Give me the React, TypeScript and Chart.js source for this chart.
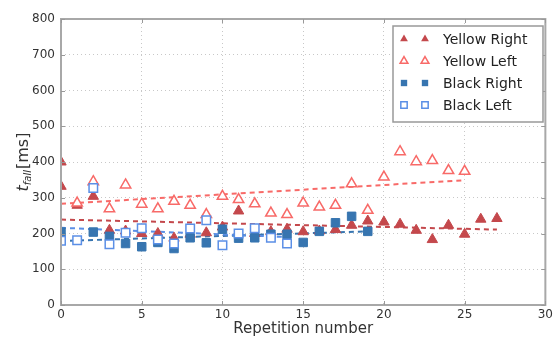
import React, { useEffect, useRef } from "react";
import { Chart, registerables } from "chart.js";

Chart.register(...registerables);

const xTicks = [0, 5, 10, 15, 20, 25, 30];
const yTicks = [0, 100, 200, 300, 400, 500, 600, 700, 800];

const yellowRightX = [0, 0, 1, 2, 3, 4, 5, 6, 7, 8, 9, 10, 11, 12, 13, 14, 15, 16, 17, 18, 19, 20, 21, 22, 23, 24, 25, 26, 27];
const yellowRightY = [400, 332, 279, 304, 209, 207, 200, 200, 187, 198, 202, 218, 263, 200, 205, 212, 205, 207, 211, 223, 235, 232, 226, 209, 183, 223, 198, 240, 242];

const yellowLeftX = [1, 2, 3, 4, 5, 6, 7, 8, 9, 10, 11, 12, 13, 14, 15, 16, 17, 18, 19, 20, 21, 22, 23, 24, 25];
const yellowLeftY = [285, 345, 269, 336, 282, 269, 290, 279, 253, 304, 295, 283, 257, 253, 285, 274, 279, 339, 265, 358, 429, 401, 404, 376, 374];

const blackRightX = [0, 2, 3, 4, 5, 6, 7, 8, 9, 10, 11, 12, 13, 14, 15, 16, 17, 18, 19];
const blackRightY = [204, 204, 192, 172, 163, 175, 158, 188, 174, 212, 187, 188, 198, 198, 175, 206, 230, 248, 206];

const blackLeftX = [0, 1, 2, 3, 4, 5, 6, 7, 8, 9, 10, 11, 12, 13, 14];
const blackLeftY = [180, 181, 327, 170, 202, 215, 183, 172, 214, 237, 167, 200, 215, 188, 172];

// trend line endpoints
const yellowRightFitX = [0, 27];
const yellowRightFitY = [239, 211];
const yellowLeftFitX = [0, 25];
const yellowLeftFitY = [283, 349];
const blackRightFitX = [0, 19];
const blackRightFitY = [179, 206];
const blackLeftFitX = [0, 14];
const blackLeftFitY = [216, 190];

const legendLabels = ["Yellow Right", "Yellow Left", "Black Right", "Black Left"];

const C_YR = "#c4484c";
const C_YL = "#f86a68";
const C_BR = "#3775b0";
const C_BL = "#5b8fe6";

const zip = (xs: number[], ys: number[]) => xs.map((x, i) => ({ x, y: ys[i] }));

const FONT = "'DejaVu Sans', sans-serif";

function drawMarker(ctx: CanvasRenderingContext2D, kind: string, x: number, y: number, r: number, color: string, filled: boolean) {
  ctx.save();
  ctx.beginPath();
  if (kind === "tri") {
    const h = r * 1.5;
    const w = r * Math.sqrt(3);
    ctx.moveTo(x, y - r);
    ctx.lineTo(x + w / 2, y - r + h);
    ctx.lineTo(x - w / 2, y - r + h);
    ctx.closePath();
  } else {
    const s = r * Math.SQRT1_2;
    ctx.rect(x - s, y - s, 2 * s, 2 * s);
  }
  if (filled) {
    ctx.fillStyle = color;
    ctx.fill();
  } else {
    ctx.fillStyle = "#fff";
    ctx.fill();
    ctx.lineWidth = 1.5;
    ctx.strokeStyle = color;
    ctx.stroke();
  }
  ctx.restore();
}

const decorPlugin = {
  id: "decor",
  afterDraw(chart: any) {
    const ctx: CanvasRenderingContext2D = chart.ctx;
    const a = chart.chartArea;
    const xs = chart.scales.x;
    const ys = chart.scales.y;
    ctx.save();
    // frame
    ctx.strokeStyle = "#a8a8a8";
    ctx.lineWidth = 2;
    ctx.strokeRect(a.left, a.top, a.right - a.left, a.bottom - a.top);
    // inward ticks
    ctx.lineWidth = 1;
    ctx.strokeStyle = "#999";
    ctx.beginPath();
    xTicks.forEach((t) => {
      const px = Math.round(xs.getPixelForValue(t)) + 0.5;
      ctx.moveTo(px, a.bottom);
      ctx.lineTo(px, a.bottom - 4);
      ctx.moveTo(px, a.top);
      ctx.lineTo(px, a.top + 4);
    });
    yTicks.forEach((t) => {
      const py = Math.round(ys.getPixelForValue(t)) + 0.5;
      ctx.moveTo(a.left, py);
      ctx.lineTo(a.left + 4, py);
      ctx.moveTo(a.right, py);
      ctx.lineTo(a.right - 4, py);
    });
    ctx.stroke();

    // x title
    ctx.fillStyle = "#333";
    ctx.font = `15px ${FONT}`;
    ctx.textAlign = "center";
    ctx.textBaseline = "middle";
    ctx.fillText("Repetition number", (a.left + a.right) / 2, 329);

    // y title with subscript
    ctx.save();
    ctx.translate(22, (a.top + a.bottom) / 2);
    ctx.rotate(-Math.PI / 2);
    ctx.textBaseline = "alphabetic";
    ctx.textAlign = "left";
    const f1 = `italic 16px ${FONT}`;
    const f2 = `italic 10px ${FONT}`;
    const f3 = `16px ${FONT}`;
    ctx.font = f1;
    const w1 = ctx.measureText("t").width;
    ctx.font = f2;
    const w2 = ctx.measureText("fall").width;
    ctx.font = f3;
    const w3 = ctx.measureText("[ms]").width;
    const total = w1 + w2 + 1 + w3;
    let cx = -total / 2;
    const base = 6;
    ctx.font = f1;
    ctx.fillText("t", cx, base);
    cx += w1;
    ctx.font = f2;
    ctx.fillText("fall", cx, base + 3);
    cx += w2 + 1;
    ctx.font = f3;
    ctx.fillText("[ms]", cx, base);
    ctx.restore();

    // legend
    const lx = 393, ly = 26, lw = 150, lh = 96;
    ctx.fillStyle = "#fff";
    ctx.fillRect(lx, ly, lw, lh);
    ctx.strokeStyle = "#999";
    ctx.lineWidth = 1.5;
    ctx.strokeRect(lx, ly, lw, lh);
    const rows = [39, 61, 83, 105];
    const kinds = [
      { k: "tri", c: C_YR, f: true },
      { k: "tri", c: C_YL, f: false },
      { k: "sq", c: C_BR, f: true },
      { k: "sq", c: C_BL, f: false },
    ];
    ctx.font = `14px ${FONT}`;
    ctx.textAlign = "left";
    ctx.textBaseline = "middle";
    rows.forEach((ry, i) => {
      const m = kinds[i];
      const r = m.k === "tri" ? 4.5 : 4.5;
      drawMarker(ctx, m.k, 404, ry, r, m.c, m.f);
      drawMarker(ctx, m.k, 425, ry, r, m.c, m.f);
      ctx.fillStyle = "#222";
      ctx.fillText(legendLabels[i], 443, ry + 1);
    });
    ctx.restore();
  },
};

export default function App() {
  const ref = useRef<HTMLCanvasElement | null>(null);
  useEffect(() => {
    if (!ref.current) return;
    const pt = (data: any[], style: string, color: string, filled: boolean, order: number, label: string) => ({
      type: "scatter" as const,
      label,
      data,
      pointStyle: style,
      pointRadius: style === "triangle" ? 6 : 6,
      pointBackgroundColor: filled ? color : "#ffffff",
      pointBorderColor: filled ? color : color,
      pointBorderWidth: filled ? 1 : 1.5,
      showLine: false,
      order,
      clip: 0,
    });
    const fit = (data: any[], color: string, order: number) => ({
      type: "line" as const,
      label: "fit",
      data,
      borderColor: color,
      borderWidth: 2,
      borderDash: [5, 4],
      pointRadius: 0,
      fill: false,
      order,
      clip: 0,
    });
    const chart = new Chart(ref.current, {
      type: "scatter",
      data: {
        datasets: [
          pt(zip(yellowRightX, yellowRightY), "triangle", C_YR, true, 4, "Yellow Right"),
          pt(zip(yellowLeftX, yellowLeftY), "triangle", C_YL, false, 3, "Yellow Left"),
          pt(zip(blackRightX, blackRightY), "rect", C_BR, true, 2, "Black Right"),
          pt(zip(blackLeftX, blackLeftY), "rect", C_BL, false, 1, "Black Left"),
          fit(zip(yellowRightFitX, yellowRightFitY), C_YR, 8),
          fit(zip(yellowLeftFitX, yellowLeftFitY), C_YL, 7),
          fit(zip(blackRightFitX, blackRightFitY), C_BR, 6),
          fit(zip(blackLeftFitX, blackLeftFitY), C_BL, 5),
        ] as any,
      },
      options: {
        animation: false,
        responsive: false,
        maintainAspectRatio: false,
        layout: { padding: { top: 19, right: 9, left: 0, bottom: 0 } },
        plugins: { legend: { display: false }, tooltip: { enabled: false }, title: { display: false } },
        scales: {
          x: {
            type: "linear",
            min: 0,
            max: 30,
            afterFit: (s: any) => { s.height = 33; },
            afterBuildTicks: (s: any) => { s.ticks = xTicks.map((v) => ({ value: v })); },
            ticks: { color: "#333", font: { family: FONT, size: 12 }, padding: 3, maxRotation: 0 },
            grid: { color: "#c8c8c8", lineWidth: 1, drawTicks: false, tickBorderDash: [1, 2] } as any,
            border: { display: false, dash: [1, 3] },
          },
          y: {
            type: "linear",
            min: 0,
            max: 800,
            afterFit: (s: any) => { s.width = 61; },
            afterBuildTicks: (s: any) => { s.ticks = yTicks.map((v) => ({ value: v })); },
            ticks: { color: "#333", font: { family: FONT, size: 12 }, padding: 6 },
            grid: { color: "#c8c8c8", lineWidth: 1, drawTicks: false },
            border: { display: false, dash: [1, 3] },
          },
        },
      },
      plugins: [decorPlugin],
    } as any);
    return () => chart.destroy();
  }, []);
  return (
    <div style={{ position: "fixed", left: 0, top: 0, width: 556, height: 338, background: "#fff" }}>
      <canvas ref={ref} width={556} height={338} style={{ width: 556, height: 338, display: "block" }} />
    </div>
  );
}
